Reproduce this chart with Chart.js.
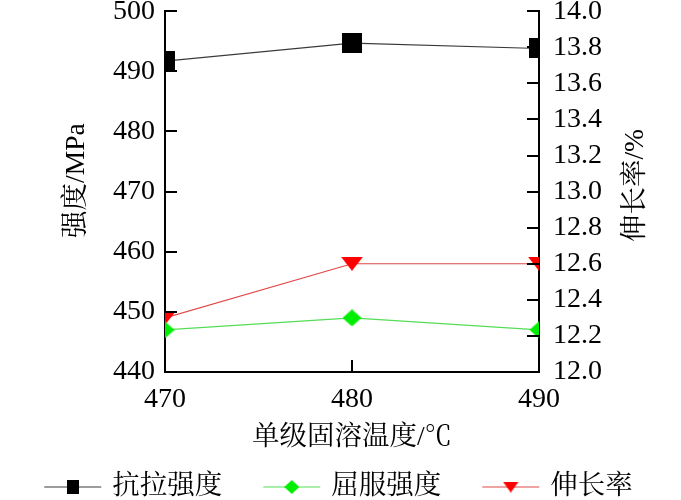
<!DOCTYPE html>
<html>
<head>
<meta charset="utf-8">
<script src="https://cdn.jsdelivr.net/npm/chart.js@4.4.0/dist/chart.umd.min.js"></script>
<style>
  html, body { margin: 0; padding: 0; background: #fff; }
  #wrap { width: 681px; height: 500px; position: relative; }
</style>
</head>
<body>
<div id="wrap"><canvas id="chart"></canvas></div>
<script>
// =============================================
// DATA
// =============================================

const temperatures = ['470', '480', '490'];
const tensileStrength = [491.7, 494.7, 493.8];   // MPa
const yieldStrength = [447, 449, 447];           // MPa
const elongation = [12.3, 12.6, 12.6];           // %

const seriesNames = ['抗拉强度', '屈服强度', '伸长率'];
const strengthTicks = { min: 440, max: 500, step: 10 };
const elongationTicks = { min: 12.0, max: 14.0, step: 0.2 };

const xTitle = '单级固溶温度/℃';
const leftTitle = '强度/MPa';
const rightTitle = '伸长率/%';

// =============================================
// STYLE
// =============================================

const NUM_FONT = '"Liberation Serif", "Times New Roman", serif';
const CJK_FONT = '"Liberation Serif", "Noto Serif CJK SC", serif';
const CJK_SIZE = 27.5;

// Marker images so the shapes match the reference proportions
function makeMarker(shape, w, h, color) {
    const c = document.createElement('canvas');
    c.width = w;
    c.height = h;
    const g = c.getContext('2d');
    g.fillStyle = color;
    g.beginPath();
    if (shape === 'square') {
        g.rect(0, 0, w, h);
    } else if (shape === 'diamond') {
        g.moveTo(w / 2, 0);
        g.lineTo(w, h / 2);
        g.lineTo(w / 2, h);
        g.lineTo(0, h / 2);
    } else {
        // downward triangle
        g.moveTo(0, 0);
        g.lineTo(w, 0);
        g.lineTo(w / 2, h);
    }
    g.closePath();
    g.fill();
    return c;
}

const seriesStyle = [
    { line: '#3a3a3a', shape: 'square', fill: '#000000', big: [20, 20], small: [12, 14] },
    { line: '#55dd55', shape: 'diamond', fill: '#00ee00', big: [19, 17], small: [15, 14] },
    { line: '#e04848', shape: 'triangle', fill: '#ff0000', big: [22, 14], small: [16, 11] }
];

seriesStyle.forEach(s => {
    s.marker = makeMarker(s.shape, s.big[0], s.big[1], s.fill);
    s.legendMarker = makeMarker(s.shape, s.small[0], s.small[1], s.fill);
});

// =============================================
// PLUGINS
// =============================================

// Inward tick marks on every axis
const inwardTicks = {
    id: 'inwardTicks',
    afterDraw(chart) {
        const ctx = chart.ctx;
        const area = chart.chartArea;
        const len = 12;
        ctx.save();
        ctx.strokeStyle = '#000';
        ctx.lineWidth = 2;
        ctx.beginPath();
        const x = chart.scales.x;
        x.ticks.forEach((t, i) => {
            const px = x.getPixelForTick(i);
            ctx.moveTo(px, area.bottom);
            ctx.lineTo(px, area.bottom - len);
        });
        const y = chart.scales.y;
        y.ticks.forEach(t => {
            const py = Math.round(y.getPixelForValue(t.value));
            ctx.moveTo(area.left, py);
            ctx.lineTo(area.left + len, py);
        });
        const y1 = chart.scales.y1;
        y1.ticks.forEach(t => {
            const py = Math.round(y1.getPixelForValue(t.value));
            ctx.moveTo(area.right, py);
            ctx.lineTo(area.right - len, py);
        });
        ctx.stroke();
        ctx.restore();
    }
};

// Both side titles read bottom-to-top
const sideTitles = {
    id: 'sideTitles',
    afterDraw(chart) {
        const ctx = chart.ctx;
        const mid = (chart.chartArea.top + chart.chartArea.bottom) / 2;
        const items = [
            { text: leftTitle, x: 77, y: mid - 11 },
            { text: rightTitle, x: 636, y: mid - 6 }
        ];
        ctx.save();
        ctx.font = CJK_SIZE + 'px ' + CJK_FONT;
        ctx.fillStyle = '#000';
        ctx.textAlign = 'center';
        ctx.textBaseline = 'middle';
        items.forEach(t => {
            ctx.save();
            ctx.translate(t.x, t.y);
            ctx.rotate(-Math.PI / 2);
            ctx.fillText(t.text, 0, 0);
            ctx.restore();
        });
        ctx.restore();
    }
};

// Legend row: line with marker, then the name
const lineLegend = {
    id: 'lineLegend',
    afterDraw(chart) {
        const ctx = chart.ctx;
        const symW = 57, symGap = 11, itemGap = 41, cy = 487;
        ctx.save();
        ctx.font = CJK_SIZE + 'px ' + CJK_FONT;
        const widths = seriesNames.map(n => ctx.measureText(n).width);
        const total = widths.reduce((a, w) => a + symW + symGap + w, 0) + itemGap * (seriesNames.length - 1);
        let x0 = (chart.width - total) / 2 - 2;
        seriesNames.forEach((name, i) => {
            const s = seriesStyle[i];
            ctx.strokeStyle = s.line;
            ctx.lineWidth = 1.2;
            ctx.beginPath();
            ctx.moveTo(x0, cy);
            ctx.lineTo(x0 + symW, cy);
            ctx.stroke();
            const m = s.legendMarker;
            ctx.drawImage(m, x0 + symW / 2 - m.width / 2, cy - m.height / 2);
            ctx.fillStyle = '#000';
            ctx.textAlign = 'left';
            ctx.textBaseline = 'middle';
            ctx.fillText(name, x0 + symW + symGap, cy);
            x0 += symW + symGap + widths[i] + itemGap;
        });
        ctx.restore();
    }
};

// =============================================
// CHART
// =============================================

const axisCommon = {
    grid: { drawOnChartArea: false, drawTicks: false },
    border: { display: true, color: '#000', width: 2 }
};

// y scales: no extra room for half label heights, plot spans the full box
function fitVertical(width) {
    return (s) => {
        s.width = width;
        s.paddingTop = 0;
        s.paddingBottom = 0;
    };
}

function drawChart() {
    const ctx = document.getElementById('chart').getContext('2d');

    new Chart(ctx, {
        type: 'line',
        data: {
            labels: temperatures,
            datasets: [
                { label: seriesNames[0], data: tensileStrength, yAxisID: 'y' },
                { label: seriesNames[1], data: yieldStrength, yAxisID: 'y' },
                { label: seriesNames[2], data: elongation, yAxisID: 'y1' }
            ].map((d, i) => Object.assign(d, {
                borderColor: seriesStyle[i].line,
                backgroundColor: seriesStyle[i].fill,
                borderWidth: 1.2,
                tension: 0,
                fill: false,
                pointStyle: seriesStyle[i].marker,
                pointRadius: 10,
                pointHoverRadius: 10,
                clip: 0
            }))
        },
        options: {
            responsive: true,
            maintainAspectRatio: false,
            animation: false,
            devicePixelRatio: 1,
            layout: { padding: { left: 0, right: 0, top: 10, bottom: 46 } },
            plugins: {
                legend: { display: false },
                tooltip: { enabled: false }
            },
            scales: {
                x: {
                    ...axisCommon,
                    offset: false,
                    ticks: {
                        color: '#000',
                        padding: 11,
                        font: { family: NUM_FONT, size: 28 },
                        maxRotation: 0
                    },
                    title: {
                        display: true,
                        text: xTitle,
                        color: '#000',
                        padding: { top: 0, bottom: 0 },
                        font: { family: CJK_FONT, size: CJK_SIZE }
                    },
                    afterFit: (s) => { s.height = 82; s.paddingLeft = 0; s.paddingRight = 0; }
                },
                y: {
                    ...axisCommon,
                    position: 'left',
                    min: strengthTicks.min,
                    max: strengthTicks.max,
                    ticks: {
                        stepSize: strengthTicks.step,
                        color: '#000',
                        padding: 10,
                        autoSkip: false,
                        font: { family: NUM_FONT, size: 28 }
                    },
                    afterFit: fitVertical(165)
                },
                y1: {
                    ...axisCommon,
                    position: 'right',
                    min: elongationTicks.min,
                    max: elongationTicks.max,
                    ticks: {
                        stepSize: elongationTicks.step,
                        color: '#000',
                        padding: 14,
                        autoSkip: false,
                        font: { family: NUM_FONT, size: 28 },
                        callback: (v) => Number(v).toFixed(1)
                    },
                    afterFit: fitVertical(142)
                }
            }
        },
        plugins: [inwardTicks, sideTitles, lineLegend]
    });
}

// make sure the faces are ready before the canvas uses them
Promise.all([
    document.fonts.load('28px "Liberation Serif"'),
    document.fonts.load('27px "Noto Serif CJK SC"', '强度')
]).catch(() => {}).then(drawChart);
</script>
</body>
</html>
